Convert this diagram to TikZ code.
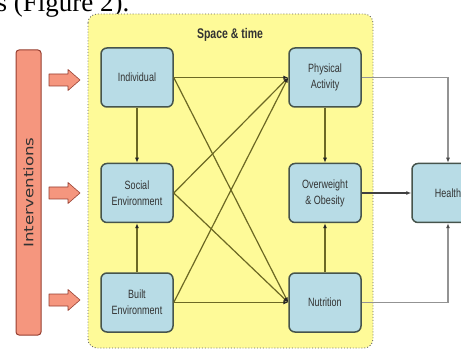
\documentclass[tikz,border=0pt]{standalone}
\usepackage{fontspec}
\setmainfont{Liberation Serif}
\newfontfamily\boxfont[FakeStretch=0.75]{Liberation Sans}
\newfontfamily\barfont{DejaVu Sans}
\usetikzlibrary{arrows.meta}

\definecolor{areayellow}{RGB}{254,250,152}
\definecolor{boxblue}{RGB}{184,220,230}
\definecolor{boxline}{RGB}{70,84,76}
\definecolor{linkolive}{RGB}{108,104,36}
\definecolor{barsalmon}{RGB}{245,150,126}
\definecolor{barline}{RGB}{150,62,48}
\definecolor{textgray}{RGB}{50,50,50}

\tikzset{
	factor/.style={draw=boxline, fill=boxblue, line width=1.5pt, rounded corners=6pt,
		minimum width=72pt, minimum height=59pt, align=center, text=textgray,
		font=\boxfont\fontsize{12}{16}\selectfont},
	link/.style={draw=linkolive, line width=1.2pt, -{Latex[length=5pt,width=4pt,color=black!85]}},
	outlink/.style={draw=gray!85, line width=1.1pt, -{Latex[length=5pt,width=4pt,color=black!70]}},
	darklink/.style={draw=black!75, line width=1.2pt, -{Latex[length=5pt,width=4pt]}},
	blockarrow/.style={draw=barline, fill=barsalmon, line width=0.6pt, line join=round}
}

\begin{document}
\begin{tikzpicture}[x=1pt,y=-1pt]

	% frame
	\useasboundingbox (0,0) rectangle (461,350);

	% caption line above, cut by the frame
	\begin{scope}
		\clip (0,0) rectangle (461,350);
		\node[anchor=base west, inner sep=0pt, font=\fontsize{27}{30}\selectfont] (caption) at (-3.5,12) {s (Figure 2).};
	\end{scope}

	% space and time area
	\draw[fill=areayellow, draw=black!60, dotted, line width=0.9pt, rounded corners=9pt]
		(88,14) rectangle (373,348);
	\node[text=textgray, font=\boxfont\bfseries\fontsize{14}{16}\selectfont] (spacetime) at (230,35) {Space \& time};

	% interventions bar
	\node[draw=barline, fill=barsalmon, line width=1pt, rounded corners=3pt, rotate=90,
		minimum width=285pt, minimum height=25pt, inner sep=0pt, text=textgray,
		font=\barfont\fontsize{13}{15}\selectfont] (interventions) at (28.5,192.5)
		{\scalebox{1.28}[1]{Interventions}};

	% block arrows
	\foreach \y in {80,193,300} {
		\draw[blockarrow] (49,\y-6) -- (68,\y-6) -- (68,\y-10.5) -- (80,\y)
			-- (68,\y+10.5) -- (68,\y+6) -- (49,\y+6) -- cycle;
	}

	% factors
	\node[factor] (individual) at (137,77.5) {Individual};
	\node[factor] (social) at (137,193) {Social\\Environment};
	\node[factor] (built) at (137,302.5) {Built\\Environment};
	\node[factor] (physical) at (325,77.5) {Physical\\Activity};
	\node[factor] (overweight) at (325,193) {Overweight\\\& Obesity};
	\node[factor] (nutrition) at (325,302.5) {Nutrition};
	\node[factor] (health) at (448,193) {Health};

	% links inside the area
	\draw[link] (individual) -- (social);
	\draw[link] (built) -- (social);
	\draw[link] (physical) -- (overweight);
	\draw[link] (nutrition) -- (overweight);

	\foreach \src in {individual,social,built} {
		\draw[link] (\src.east) -- (physical.west);
		\draw[link] (\src.east) -- (nutrition.west);
	}

	% links to health
	\draw[outlink] (physical.east) -| (health.north);
	\draw[outlink] (nutrition.east) -| (health.south);
	\draw[darklink] (overweight.east) -- (health.west);

\end{tikzpicture}
\end{document}
